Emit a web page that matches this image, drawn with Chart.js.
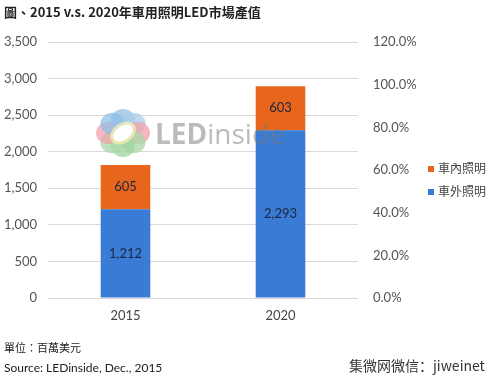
<!DOCTYPE html>
<html><head><meta charset="utf-8">
<script src="https://cdn.jsdelivr.net/npm/chart.js@4/dist/chart.umd.min.js"></script>
<style>
html,body{margin:0;padding:0;background:#fff;}
#wrap{position:relative;width:493px;height:381px;overflow:hidden;}
canvas{position:absolute;left:0;top:0;}
.t{position:absolute;white-space:nowrap;}
#title{left:4px;top:2px;font:bold 13px "Noto Sans CJK TC",sans-serif;color:#222;}
#unit{left:4px;top:339px;font:11px "Noto Sans CJK TC",sans-serif;color:#222;}
#src{left:4px;top:360px;font:12px Lato,"Noto Sans CJK TC",sans-serif;color:#222;}
#wx{left:349px;top:355px;font:14px "Noto Sans CJK SC",sans-serif;color:#333;}
.lg{position:absolute;left:428px;font:12px "Noto Sans CJK TC",sans-serif;color:#444;}
.lg span{display:inline-block;width:6px;height:6px;margin-right:4px;vertical-align:1px;}
</style></head>
<body><div id="wrap">
<canvas id="c" width="493" height="381"></canvas>
<div class="t" id="title">圖、2015 v.s. 2020年車用照明LED市場產值</div>
<div class="lg" style="top:159px"><span style="background:#e8661c"></span>車內照明</div>
<div class="lg" style="top:182px"><span style="background:#3a7bd5"></span>車外照明</div>
<div class="t" id="unit">單位：百萬美元</div>
<div class="t" id="src">Source: LEDinside, Dec., 2015</div>
<div class="t" id="wx">集微网微信：jiweinet</div>
</div>
<script>
const categories = ['2015', '2020'];
const exterior = [1212, 2293];   // 車外照明
const interior = [605, 603];     // 車內照明
const leftTicks = [0, 3500, 500];
const rightTicks = [0, 1.2, 0.2];

const labelPlugin = {
  id: 'labels',
  afterDatasetsDraw(chart) {
    const ctx = chart.ctx;
    // watermark logo
    ctx.save();
    const cx = 123, cy = 133;
    const petals = [[-90,'#8fbfe6'],[-45,'#a9cdea'],[0,'#f2a0ad'],[45,'#a8d8a8'],[90,'#9fd49f'],[135,'#a8d8a8'],[180,'#f2a0ad'],[-135,'#8fbfe6']];
    ctx.globalAlpha = 0.75;
    petals.forEach(p=>{
      const a = p[0]*Math.PI/180;
      ctx.fillStyle = p[1];
      ctx.beginPath();
      ctx.ellipse(cx+Math.cos(a)*15, cy+Math.sin(a)*13, 12, 11, 0, 0, Math.PI*2);
      ctx.fill();
    });
    ctx.fillStyle = '#f8f0b0';
    ctx.beginPath(); ctx.ellipse(cx, cy, 14, 10, -0.6, 0, Math.PI*2); ctx.fill();
    ctx.globalAlpha = 1;
    ctx.fillStyle = '#fff';
    ctx.beginPath(); ctx.ellipse(cx, cy, 11, 7, -0.6, 0, Math.PI*2); ctx.fill();
    ctx.globalAlpha = 0.5;
    ctx.fillStyle = '#777';
    ctx.textBaseline = 'alphabetic';
    ctx.font = 'bold 28px "Open Sans", sans-serif';
    ctx.fillText('LED', 155, 144);
    const w = ctx.measureText('LED').width;
    ctx.font = '28px "Open Sans", sans-serif';
    ctx.fillText('inside', 155 + w, 144);
    ctx.restore();
    // data labels
    ctx.save();
    ctx.font = '13px Lato, sans-serif';
    ctx.fillStyle = '#1b2640';
    ctx.textAlign = 'center';
    ctx.textBaseline = 'middle';
    chart.data.datasets.forEach((ds, i) => {
      chart.getDatasetMeta(i).data.forEach((bar, j) => {
        const y = (bar.y + bar.base) / 2;
        ctx.fillText(ds.data[j].toLocaleString('en-US'), bar.x, y);
      });
    });
    ctx.restore();
  }
};

new Chart(document.getElementById('c'), {
  type: 'bar',
  data: {
    labels: categories,
    datasets: [
      { label: '車外照明', data: exterior, backgroundColor: '#3a7bd5', yAxisID: 'y' },
      { label: '車內照明', data: interior, backgroundColor: '#e8661c', yAxisID: 'y' }
    ]
  },
  options: {
    responsive: false,
    animation: false,
    layout: { padding: { left: 0, right: 75, top: 42, bottom: 53 } },
    plugins: { legend: { display: false }, tooltip: { enabled: false } },
    datasets: { bar: { categoryPercentage: 0.64, barPercentage: 0.5 } },
    scales: {
      x: {
        stacked: true,
        grid: { display: false, drawTicks: false },
        border: { display: false },
        ticks: { padding: 10, color: '#444', font: { family: 'Lato', size: 13 } },
        afterFit(s) { s.height = 30; }
      },
      y: {
        stacked: true,
        min: leftTicks[0], max: leftTicks[1],
        grid: { color: '#d9d9d9', drawTicks: false },
        border: { display: false },
        ticks: { stepSize: leftTicks[2], padding: 11, color: '#555', font: { family: 'Lato', size: 13 },
          callback: v => v.toLocaleString('en-US') },
        afterFit(s) { s.width = 48; }
      },
      y1: {
        position: 'right',
        min: rightTicks[0], max: rightTicks[1],
        grid: { display: false, drawTicks: false },
        border: { display: false },
        ticks: { stepSize: rightTicks[2], padding: 15, color: '#555', font: { family: 'Lato', size: 13 },
          callback: v => (v * 100).toFixed(1) + '%' },
        afterFit(s) { s.width = 60; }
      }
    }
  },
  plugins: [labelPlugin]
});
</script>
</body></html>
